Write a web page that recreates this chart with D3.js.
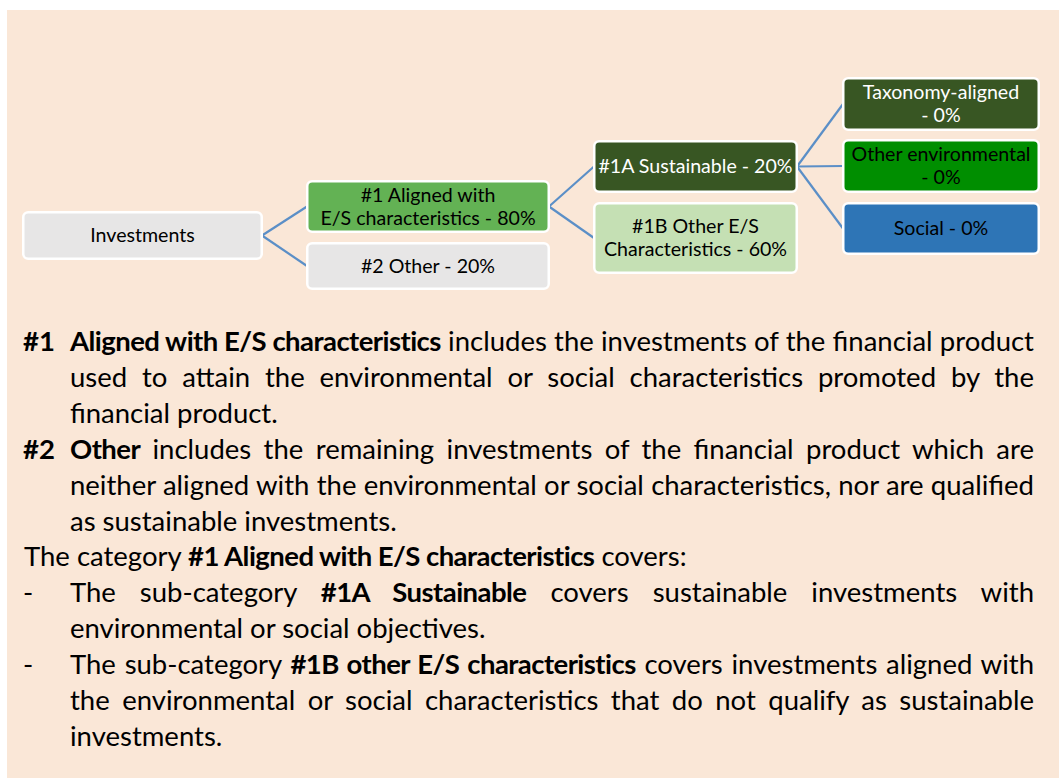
<!DOCTYPE html>
<html>
<head>
<meta charset="utf-8">
<script src="https://d3js.org/d3.v7.min.js"></script>
<style>
    body { margin: 0; background: #ffffff; font-family: Lato, "Open Sans", sans-serif; }
    #chart { position: absolute; left: 0; top: 0; width: 1059px; height: 778px; }
    .bline { position: absolute; color: #000; white-space: nowrap; line-height: 36px; }
    b { font-weight: 700; letter-spacing: -0.02em; }
</style>
</head>
<body>
<div id="chart"></div>
<script>

// tree nodes (id, parent, label lines, share)
const nodeIds     = ["inv", "n1", "n2", "n1a", "n1b", "tax", "env", "soc"];
const nodeParents = ["", "inv", "inv", "n1", "n1", "n1a", "n1a", "n1a"];
const nodeLabels  = [["Investments"], ["#1 Aligned with", "E/S characteristics"], ["#2 Other"],
                     ["#1A Sustainable"], ["#1B Other E/S", "Characteristics"],
                     ["Taxonomy-aligned", ""], ["Other environmental", ""], ["Social"]];
const nodeShares  = [null, 80, 20, 20, 60, 0, 0, 0];

// explanatory text, one entry per printed line (** marks bold)
const bodyTags  = ["#1", "", "", "#2", "", "", null, "-", "", "-", "", ""];
const bodyText  = [
    "**Aligned with E/S characteristics** includes the investments of the financial product",
    "used to attain the environmental or social characteristics promoted by the",
    "financial product.",
    "**Other** includes the remaining investments of the financial product which are",
    "neither aligned with the environmental or social characteristics, nor are qualified",
    "as sustainable investments.",
    "The category **#1 Aligned with E/S characteristics** covers:",
    "The sub-category **#1A Sustainable** covers sustainable investments with",
    "environmental or social objectives.",
    "The sub-category **#1B other E/S characteristics** covers investments aligned with",
    "the environmental or social characteristics that do not qualify as sustainable",
    "investments."
];
const bodyJustify = [true, true, false, true, true, false, false, true, false, true, true, false];

// styles
const nodeFill = {inv: "#E7E6E6", n1: "#63B254", n2: "#E7E6E6", n1a: "#385623", n1b: "#C5E0B4",
                  tax: "#385623", env: "#008E00", soc: "#2E75B6"};
const nodeInk  = {inv: "#000", n1: "#000", n2: "#000", n1a: "#fff", n1b: "#000",
                  tax: "#fff", env: "#000", soc: "#000"};
const linkColor = "#5B8FC7";
const panelColor = "#FAE7D7";

// layout: columns by depth, box extents by node
const colX = [22, 306, 593, 842];
const colW = [241, 244, 205, 198];
const boxTop = {inv: 211, n1: 180, n2: 242, n1a: 140, n1b: 202, tax: 77, env: 139, soc: 202};
const boxH   = {inv: 49, n1: 53, n2: 48, n1a: 53, n1b: 72, tax: 54, env: 54, soc: 53};

const W = 1059, H = 778;
const textLeft = 70, textRight = 1034, tagLeft = 23;
const lineTop0 = 323, lineStep = 35.9;
const bodyPx = 27.5, nodePx = 19.6;

const root = d3.stratify()
    .id(d => d.id)
    .parentId(d => d.parent || null)(nodeIds.map((id, i) => ({
        id: id,
        parent: nodeParents[i],
        lines: nodeLabels[i].map((l, j, a) => (nodeShares[i] === null || j < a.length - 1) ? l
            : (l + " - " + nodeShares[i] + "%").trim())
    })));

const xCol = d3.scaleOrdinal().domain([0, 1, 2, 3]).range(colX);
const wCol = d3.scaleOrdinal().domain([0, 1, 2, 3]).range(colW);

const nodes = root.descendants();
nodes.forEach(n => {
    n.bx = xCol(n.depth);
    n.bw = wCol(n.depth);
    n.by = boxTop[n.id];
    n.bh = boxH[n.id];
    n.cy = n.by + n.bh / 2;
});

const svg = d3.select("#chart").append("svg")
    .attr("width", W)
    .attr("height", H)
    .style("position", "absolute")
    .style("left", 0).style("top", 0);

svg.append("rect")
    .attr("x", 7).attr("y", 10)
    .attr("width", W - 7).attr("height", H - 10)
    .attr("fill", panelColor);

// connectors: parent right-middle to child left-middle
svg.append("g").selectAll("line")
    .data(root.links())
    .join("line")
    .attr("x1", d => d.source.bx + d.source.bw - 1)
    .attr("y1", d => d.source.cy)
    .attr("x2", d => d.target.bx + 1)
    .attr("y2", d => d.target.cy)
    .attr("stroke", linkColor)
    .attr("stroke-width", 2.2);

const box = svg.append("g").selectAll("g")
    .data(nodes)
    .join("g");

box.append("rect")
    .attr("x", d => d.bx + 1.25)
    .attr("y", d => d.by + 1.25)
    .attr("width", d => d.bw - 2.5)
    .attr("height", d => d.bh - 2.5)
    .attr("rx", 5)
    .attr("fill", d => nodeFill[d.id])
    .attr("stroke", "#ffffff")
    .attr("stroke-width", 2.5);

box.each(function(d) {
    const lines = d.data.lines;
    const lh = 23;
    const t = d3.select(this).append("text")
        .attr("text-anchor", "middle")
        .attr("fill", nodeInk[d.id])
        .style("font-family", "Lato, sans-serif")
        .style("font-size", nodePx + "px");
    lines.forEach((l, j) => {
        t.append("tspan")
            .attr("x", d.bx + d.bw / 2)
            .attr("y", d.cy - (lines.length - 1) * lh / 2 + j * lh)
            .attr("dy", "0.35em")
            .text(l);
    });
});

// explanatory text as HTML lines, justified by stretching word spacing
const body = d3.select("#chart").append("div")
    .style("position", "absolute")
    .style("left", 0).style("top", 0)
    .style("font-size", bodyPx + "px");

bodyText.forEach((txt, i) => {
    const top = lineTop0 + i * lineStep;
    const left = bodyTags[i] === null ? tagLeft + 1 : textLeft;
    const div = body.append("div")
        .attr("class", "bline")
        .style("left", left + "px")
        .style("top", top + "px");
    const inner = div.append("span");
    txt.split("**").forEach((part, k) => {
        if (k % 2) inner.append("b").text(part);
        else inner.append("span").text(part);
    });
    if (bodyJustify[i]) {
        const natural = inner.node().getBoundingClientRect().width;
        const gaps = txt.split(" ").length - 1;
        div.style("word-spacing", ((textRight - left - natural) / gaps) + "px");
    }
    if (bodyTags[i]) {
        body.append("div")
            .attr("class", "bline")
            .style("left", tagLeft + "px")
            .style("top", top + "px")
            .style("font-weight", bodyTags[i] === "-" ? 400 : 700)
            .text(bodyTags[i]);
    }
});

</script>
</body>
</html>
